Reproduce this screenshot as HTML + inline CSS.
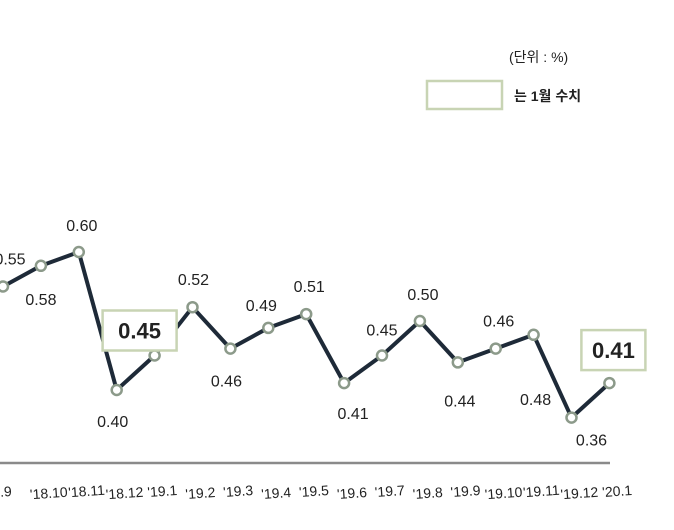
<!DOCTYPE html>
<html><head><meta charset="utf-8"><style>
html,body{margin:0;padding:0;background:#fff;}
svg{display:block;font-family:"Liberation Sans","Noto Sans CJK KR",sans-serif;}
</style></head><body>
<svg id="chart" width="674" height="530" viewBox="0 0 674 530">
<text x="509" y="62" font-size="14" fill="#222">(단위 : %)</text>
<rect x="427" y="81" width="75" height="28" fill="#fff" stroke="#c8d4b4" stroke-width="2.5"/>
<text x="514" y="101" font-size="14" font-weight="bold" fill="#222">는 1월 수치</text>
<line x1="0" y1="463" x2="610" y2="463" stroke="#8a8a8a" stroke-width="2.5"/>
<g id="xl"></g><path id="ln" fill="none" stroke="#1e2a38" stroke-width="4" stroke-linejoin="round"/>
<g id="pts"></g><g id="vl"></g>
</svg>
<script>
const categories=["'18.9","'18.10","'18.11","'18.12","'19.1","'19.2","'19.3","'19.4","'19.5","'19.6","'19.7","'19.8","'19.9","'19.10","'19.11","'19.12","'20.1"];
const values=[0.55,0.58,0.60,0.40,0.45,0.52,0.46,0.49,0.51,0.41,0.45,0.50,0.44,0.46,0.48,0.36,0.41];
const valueLabels=["0.55","0.58","0.60","0.40","0.45","0.52","0.46","0.49","0.51","0.41","0.45","0.50","0.44","0.46","0.48","0.36","0.41"];
const highlighted=[false,false,false,false,true,false,false,false,false,false,false,false,false,false,false,false,true];
const lblOff=[[7,-28],[0,33],[3,-27],[-4,31],[-15,-23],[1,-28],[-4,32],[-7,-23],[3,-28],[9,30],[0,-26],[3,-27],[2,38],[3,-28],[2,64],[20,22],[4,-31]];
const NS="http://www.w3.org/2000/svg";
const x=i=>3+i*37.9;
const y=v=>252+(0.60-v)*690;
const mk=(t,a)=>{const e=document.createElementNS(NS,t);for(const k in a)e.setAttribute(k,a[k]);return e;};
let d="";values.forEach((v,i)=>{d+=(i?"L":"M")+x(i)+" "+y(v);});
document.getElementById("ln").setAttribute("d",d);
const pts=document.getElementById("pts"),vl=document.getElementById("vl"),xl=document.getElementById("xl");
values.forEach((v,i)=>{
 const c=mk("circle",{cx:x(i),cy:y(v),r:5,fill:"#fff",stroke:"#8c9a8a","stroke-width":2.5});
 
 
 pts.appendChild(c);
 const lx=x(i)+lblOff[i][0],ly=y(v)+lblOff[i][1];
 if(highlighted[i]){
  const w=i===16?64:74;
  const r=mk("rect",{x:lx-w/2,y:ly-22,width:w,height:40,fill:"#fff",stroke:"#c8d4b4","stroke-width":2.5});
  
  
  vl.appendChild(r);
 }
 const t=mk("text",{x:lx,y:ly+6,"text-anchor":"middle","font-size":highlighted[i]?22:16,"font-weight":highlighted[i]?"bold":"normal",fill:"#222"});
 t.textContent=valueLabels[i];
 
 
 vl.appendChild(t);
 const xt=mk("text",{x:x(i)+(i===0?-6:8),y:498+(i%2?0:-2),"text-anchor":"middle","font-size":14,fill:"#222",transform:"rotate(-4 "+(x(i)+8)+" 495)"});
 xt.textContent=categories[i];
 
 
 xl.appendChild(xt);
});
</script>
</body></html>
